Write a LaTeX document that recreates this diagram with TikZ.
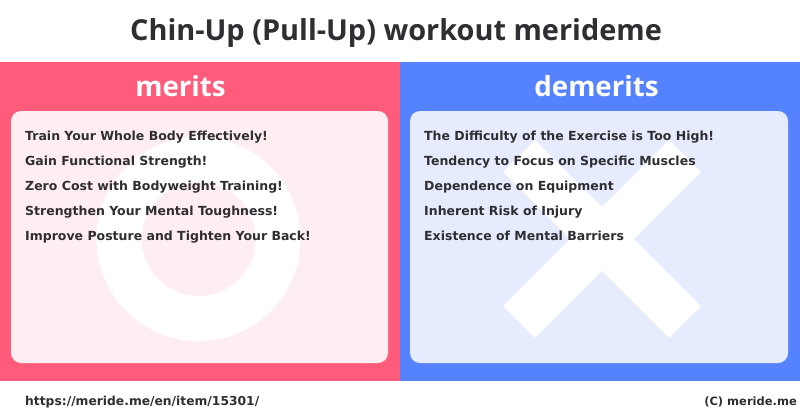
\documentclass[tikz,border=0pt]{standalone}
\usepackage{fontspec}
\setmainfont{DejaVu Sans}
\newfontfamily\headfont{Open Sans}
\usepackage{tikz}
\usetikzlibrary{positioning}
\definecolor{meritred}{HTML}{FF5C7C}
\definecolor{demeritblue}{HTML}{5583FF}
\definecolor{meritpale}{HTML}{FFEEF1}
\definecolor{demeritpale}{HTML}{E6ECFE}
\definecolor{inkgray}{HTML}{2F2F33}
\tikzset{
	titletext/.style={inkgray, anchor=base, inner sep=0pt, font=\headfont\bfseries\fontsize{28.9}{32}\selectfont},
	headtext/.style={white, anchor=base, inner sep=0pt, font=\headfont\bfseries\fontsize{27.7}{32}\selectfont},
	itemtext/.style={inkgray, anchor=base west, inner sep=0pt, font=\bfseries\fontsize{12.5}{15}\selectfont},
	foottext/.style={inkgray, inner sep=0pt, font=\bfseries\fontsize{12.3}{15}\selectfont},
	symbolline/.style={white, line width=45pt}
}
\begin{document}
\begin{tikzpicture}[x=1pt, y=-1pt]
	% Page background fixes the proportions
	\fill[white] (0,0) rectangle (800,418);
	
	% Coloured panels
	\fill[meritred] (0,62) rectangle (400,381);
	\fill[demeritblue] (400,62) rectangle (800,381);
	
	% Pale boxes
	\fill[meritpale, rounded corners=10pt] (11,111) rectangle (388,363);
	\fill[demeritpale, rounded corners=10pt] (410,111) rectangle (788,363);
	
	% Big symbols behind the lists
	\draw[symbolline] (198.5,239) circle (79.5);
	\draw[symbolline] (519,156) -- (685,322);
	\draw[symbolline] (685,156) -- (519,322);
	
	% Title and panel headings
	\node[titletext] (title) at (396,40) {Chin-Up (Pull-Up) workout merideme};
	\node[headtext] (meritshead) at (180.5,96) {merits};
	\node[headtext] (demeritshead) at (596.5,96) {demerits};
	
	% Merits list
	\node[itemtext] (merit1) at (25,140) {Train Your Whole Body Effectively!};
	\node[itemtext] (merit2) at (25,165) {Gain Functional Strength!};
	\node[itemtext] (merit3) at (25,190) {Zero Cost with Bodyweight Training!};
	\node[itemtext] (merit4) at (25,215) {Strengthen Your Mental Toughness!};
	\node[itemtext] (merit5) at (25,240) {Improve Posture and Tighten Your Back!};
	
	% Demerits list
	\node[itemtext] (demerit1) at (424,140) {The Difficulty of the Exercise is Too High!};
	\node[itemtext] (demerit2) at (424,165) {Tendency to Focus on Specific Muscles};
	\node[itemtext] (demerit3) at (424,190) {Dependence on Equipment};
	\node[itemtext] (demerit4) at (424,215) {Inherent Risk of Injury};
	\node[itemtext] (demerit5) at (424,240) {Existence of Mental Barriers};
	
	% Footer
	\node[foottext, anchor=base west] (pageurl) at (25,405) {https://meride.me/en/item/15301/};
	\node[foottext, anchor=base east, font=\bfseries\fontsize{11.5}{15}\selectfont] (credit) at (797,405) {(C) meride.me};
\end{tikzpicture}
\end{document}
